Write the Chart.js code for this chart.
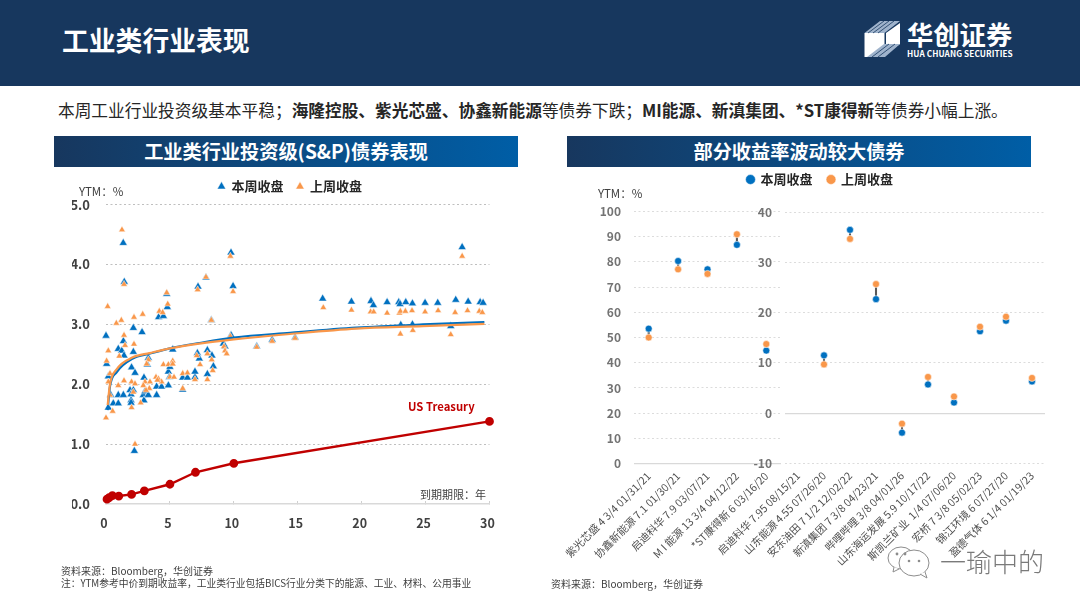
<!DOCTYPE html>
<html lang="zh"><head><meta charset="utf-8">
<script src="https://cdn.jsdelivr.net/npm/chart.js@4/dist/chart.umd.min.js"></script>
<style>
html,body{margin:0;padding:0;background:#fff}
#page{position:relative;width:1080px;height:608px;overflow:hidden;font-family:"Noto Sans CJK SC","Noto Sans",sans-serif;color:#262626}
#page canvas{position:absolute;left:0;top:0}
.t{position:absolute;white-space:nowrap;line-height:1}
#head{position:absolute;left:0;top:0;width:1080px;height:86px;background:#17375e}
.bar{position:absolute;top:136px;height:31px;color:#fff;font-weight:700;font-size:19.2px;line-height:30px;text-align:center;background:linear-gradient(90deg,#17375e,#005ea6)}
</style></head><body><div id="page">
<div id="head"></div>
<div class="t" style="left:62px;top:27px;font-size:26.8px;font-weight:700;color:#fff">工业类行业表现</div>
<svg style="position:absolute;left:860px;top:16px" width="46" height="46" viewBox="860 16 46 46">
<polygon points="864.5,33 884.5,33 884.5,57 864.5,57" fill="#fff"/>
<polygon points="864.5,33 880,21 900,21 884.5,33" fill="#9fb3cc"/>
<polygon points="886,33 900,23 900,44 886,54" fill="#fff"/>
<polygon points="867,57 884,44 900,44 885,57" fill="#9fb3cc"/>
<g stroke="#17375e" stroke-width="0.8"><line x1="868" y1="33" x2="884" y2="21"/><line x1="873" y1="33" x2="889" y2="21"/><line x1="878" y1="33" x2="894" y2="21"/><line x1="872" y1="57" x2="889" y2="44"/><line x1="878" y1="57" x2="895" y2="44"/></g>
</svg>
<div class="t" style="left:907px;top:21px;font-size:26.3px;font-weight:700;color:#fff">华创证券</div>
<div class="t" style="left:907px;top:49px;font-size:8.2px;font-weight:700;color:#fff;letter-spacing:.1px">HUA CHUANG SECURITIES</div>
<div class="t" style="left:58px;top:102px;font-size:16.7px;color:#262626">本周工业行业投资级基本平稳；<b>海隆控股、紫光芯盛、协鑫新能源</b>等债券下跌；<b>MI能源、新滇集团、*ST康得新</b>等债券小幅上涨。</div>
<div class="bar" style="left:54px;width:464px">工业类行业投资级(S&amp;P)债券表现</div>
<div class="bar" style="left:567px;width:464px">部分收益率波动较大债券</div>
<canvas id="scatterChart" width="1080" height="608"></canvas>
<canvas id="leftPanel" width="1080" height="608"></canvas>
<canvas id="rightPanel" width="1080" height="608"></canvas>
<div class="t" style="left:79px;top:186px;font-size:11.5px;color:#404040">YTM：%</div>
<div class="t" style="left:408px;top:401px;font-size:11.3px;font-weight:700;color:#c00000">US Treasury</div>
<div class="t" style="left:420px;top:489px;font-size:11px;color:#404040">到期期限：年</div>
<div class="t" style="left:598px;top:188px;font-size:11.5px;color:#404040">YTM：%</div>
<div class="t" style="left:61px;top:566px;font-size:10px;color:#404040">资料来源：Bloomberg，华创证券</div>
<div class="t" style="left:61px;top:579px;font-size:9.75px;color:#404040">注：YTM参考中价到期收益率，工业类行业包括BICS行业分类下的能源、工业、材料、公用事业</div>
<div class="t" style="left:551px;top:579px;font-size:10px;color:#404040">资料来源：Bloomberg，华创证券</div>
<svg style="position:absolute;left:886px;top:543px" width="50" height="38" viewBox="0 0 50 38">
<ellipse cx="15" cy="15" rx="13" ry="11" fill="#fff" stroke="#8c8c8c" stroke-width="1"/>
<path d="M8 24 L7 29 L13 26" fill="#fff" stroke="#8c8c8c"/>
<ellipse cx="28" cy="20" rx="15" ry="13" fill="#fff" stroke="#8c8c8c" stroke-width="1"/>
<path d="M34 31 L41 35 L39 29" fill="#fff" stroke="#8c8c8c"/>
<circle cx="11" cy="11" r="1.4" fill="#8c8c8c"/><circle cx="19" cy="11" r="1.4" fill="#8c8c8c"/>
<circle cx="23" cy="18" r="1.3" fill="#8c8c8c"/><circle cx="33" cy="18" r="1.3" fill="#8c8c8c"/>
</svg>
<div class="t" style="left:940px;top:548px;font-size:26px;font-weight:300;color:#7a7a7a">一瑜中的</div>
</div>
<script>
const FONT='"Noto Sans CJK SC","Noto Sans",sans-serif';
const BLUE='#0070c0', ORANGE='#f9974a', RED='#c00000';
const seriesNames=['本周收盘','上周收盘'];

// Left chart: maturity (years) and YTM (%)
const thisWeekYears=[0,1.35,1.43,2.14,2.82,4.12,4.49,4.8,4.75,7.2,7.82,8.24,9.78,9.94,9.78,1.36,0.96,1.23,1.41,2.14,0.05,0.18,2.0,2.27,3.23,3.31,5.22,2.97,4.88,5.0,0.18,0.57,0.96,0.37,0.96,1.36,1.88,2.14,1.96,1.96,1.96,2.92,3.05,2.97,3.31,3.96,3.96,4.35,4.88,4.96,6.0,6.37,6.96,6.96,6.0,7.15,7.3,7.93,8.29,8.4,7.93,9.18,9.31,2.22,11.79,13.0,14.79,16.95,19.2,20.73,20.92,21.99,22.9,23.0,23.45,23.97,24.96,25.95,27.36,28.33,29.27,29.5,23.06,23.97,26.97,27.86];
const thisWeekYtm=[2.81,4.36,3.71,2.94,2.87,3.12,3.14,3.29,3.51,3.63,3.78,3.07,4.2,3.64,2.82,2.72,2.59,2.56,2.48,2.54,2.34,2.13,2.28,2.19,2.33,2.44,2.58,2.11,2.21,2.29,1.61,1.68,1.68,1.82,1.82,1.82,1.9,1.9,1.83,1.73,1.69,1.82,1.88,1.73,1.82,1.82,1.96,1.96,1.98,2.12,2.11,2.11,2.12,2.21,1.91,2.52,2.43,2.57,2.48,2.3,2.17,2.68,2.63,0.885,2.63,2.74,2.78,3.43,3.38,3.39,3.32,3.37,3.37,3.34,3.37,3.35,3.36,3.36,3.41,3.38,3.37,3.36,2.99,3.0,2.97,4.29];
const lastWeekYears=[0.13,1.25,1.41,0.81,1.2,2.19,2.87,1.41,4.17,4.43,4.83,4.75,7.17,7.82,8.24,9.73,9.94,9.73,0,0.52,2.19,1.49,0.18,0.05,1.04,0.31,0.18,1.41,0.96,0.31,2.0,2.27,2.0,2.71,3.05,2.92,3.44,3.39,3.13,3.31,3.18,4.49,4.88,5.22,5.22,3.91,4.1,4.35,5.0,5.32,6,6.37,6.96,6,7.1,7.36,7.93,7.93,8.35,8.27,9.23,9.31,9.44,2.14,4.02,2.27,11.79,13.0,14.79,17.0,19.2,20.7,20.94,21.99,22.95,23.03,23.42,23.94,24.96,25.98,27.31,28.28,29.2,29.44,23.03,24,26.97,27.86];
const lastWeekYtm=[3.3,4.58,3.67,3.02,3.07,3.12,3.17,2.82,3.22,3.2,3.34,3.53,3.58,3.79,3.07,4.14,3.55,2.8,1.44,1.55,2.67,2.65,2.56,2.39,2.47,2.18,2.04,2.06,1.98,1.82,2.04,2.01,1.61,1.69,2.04,1.98,2.04,1.93,1.9,2.41,2.34,2.33,2.33,2.39,2.34,2.12,2.09,2.04,2.12,2.12,2.18,2.19,2.08,1.93,2.48,2.33,2.51,2.08,2.23,2.41,2.63,2.56,2.51,1.87,2.07,1.0,2.62,2.72,2.77,3.28,3.24,3.21,3.21,3.19,3.19,3.22,3.22,3.23,3.21,3.23,3.2,3.23,3.22,3.2,2.84,2.9,2.83,4.14];
const trendYears=[0.13,0.31,0.83,2.1,3.4,5,7.3,10,14.4,19.6,24.8,29.6];
const trendThisWeek=[1.57,1.96,2.2,2.43,2.51,2.6,2.69,2.78,2.86,2.945,3.0,3.04];
const trendLastWeek=[1.65,2.0,2.25,2.45,2.52,2.6,2.68,2.75,2.84,2.93,2.97,3.01];
const treasuryYears=[0.08,0.25,0.5,1,2,3,5,7,10,30];
const treasuryYtm=[0.08,0.105,0.14,0.133,0.16,0.22,0.33,0.53,0.68,1.38];
const leftYTicks=[0,1,2,3,4,5];

// Right charts
const highYieldNames=['紫光芯盛 4 3/4 01/31/21','协鑫新能源 7.1 01/30/21','启迪科华 7.9 03/07/21','M I 能源 13 3/4 04/12/22','*ST康得新 6 03/16/20'];
const highYieldThis=[53.5,80.3,77,86.7,44.8];
const highYieldLast=[50,77,75.2,90.9,47.4];
const lowYieldNames=['启迪科华 7.95 08/15/21','山东能源 4.55 07/26/20','安东油田 7 1/2 12/02/22','新滇集团 7 3/8 04/23/21','哔哩哔哩 3/8 04/01/26','山东海运发展 5.9 10/17/22','斯凯兰矿业  1/4 07/06/20','宏桥 7 3/8 05/02/23','锦江环境 6 07/27/20','盈德气体 6 1/4 01/19/23'];
const lowYieldThis=[null,11.5,36.5,22.7,-3.9,5.7,2.1,16.3,18.4,6.3];
const lowYieldLast=[null,9.7,34.7,25.7,-2.1,7.2,3.3,17.2,19.2,7.0];

const zip=(xs,ys)=>xs.map((x,i)=>({x,y:ys[i]}));
const range=(a,b)=>a.map((v,i)=>v==null?null:[Math.min(v,b[i]),Math.max(v,b[i])]);

function legendPlacer(left,right,top){return {id:'legendPlacer',beforeDraw(c){const l=c.legend;const h=l.bottom-l.top;l.left=left;l.right=right;l.top=top;l.bottom=top+h;}};}
const legendOpts=(size,box,pad)=>({display:true,position:'top',align:'center',
  labels:{usePointStyle:true,boxWidth:box,boxHeight:box,padding:pad,color:'#262626',font:{family:FONT,size,weight:'700'},
    filter:(it)=>seriesNames.includes(it.text),sort:(a,b)=>b.datasetIndex-a.datasetIndex}});
function pinTop(chart,top){chart.options.layout.padding.top-=chart.chartArea.top-top;chart.update();}

Chart.defaults.animation=false;
Chart.defaults.responsive=false;
Chart.defaults.font.family=FONT;

const tri=(label,data,color,r)=>({type:'scatter',label,data,clip:false,pointStyle:'triangle',pointRadius:r,pointBackgroundColor:color,backgroundColor:color,pointBorderColor:'rgba(255,255,255,.85)',borderColor:color,pointBorderWidth:.6,showLine:false});
const trend=(label,data,color)=>({type:'line',label,data,borderColor:color,backgroundColor:color,borderWidth:2.2,pointRadius:0,cubicInterpolationMode:'monotone',fill:false});

const scatterChart=new Chart(document.getElementById('scatterChart'),{
  type:'scatter',
  data:{datasets:[
    {type:'line',label:'US Treasury',data:zip(treasuryYears,treasuryYtm),clip:false,borderColor:RED,backgroundColor:RED,pointBackgroundColor:RED,pointBorderColor:RED,pointRadius:3.2,borderWidth:2.4,tension:0,fill:false},
    trend('上周趋势',zip(trendYears,trendLastWeek),ORANGE),
    trend('本周趋势',zip(trendYears,trendThisWeek),BLUE),
    tri('上周收盘',zip(lastWeekYears,lastWeekYtm),ORANGE,3.9),
    tri('本周收盘',zip(thisWeekYears,thisWeekYtm),BLUE,4.7)
  ]},
  options:{
    layout:{autoPadding:false,padding:{left:72,right:590.5,top:204.7,bottom:80}},
    plugins:{legend:legendOpts(13,7,13),tooltip:{enabled:false}},
    scales:{
      x:{type:'linear',min:0,max:30,afterFit:s=>{s.height=24;},
        ticks:{stepSize:5,color:'#404040',font:{size:12.5,weight:'700'},padding:15,labelOffset:-2,maxRotation:0},
        grid:{drawOnChartArea:false,drawTicks:true,tickLength:-3,color:'#d0d0d0'},
        border:{display:true,color:'#d9d9d9',width:1.5}},
      y:{type:'linear',min:0,max:5,afterFit:s=>{s.width=34;},
        afterBuildTicks:s=>{s.ticks=leftYTicks.map(value=>({value}));},
        ticks:{callback:v=>v.toFixed(1),color:'#404040',font:{size:13,weight:'700'},padding:16},
        grid:{drawTicks:false,color:c=>c.tick&&c.tick.value===0?'rgba(0,0,0,0)':'#bfbfbf'},
        border:{display:false,dash:[2,2.5]}}
    }
  },
  plugins:[legendPlacer(90,490,167)]
});
pinTop(scatterChart,204.7);

function panel(id,names,thisW,lastW,min,max,pad,yWidth,zeroValue,placer,withLegend){
  const base=v=>({type:'line',showLine:false,pointRadius:3.5,pointBorderColor:'rgba(255,255,255,.9)',pointBorderWidth:.6,pointStyle:'circle',...v});
  return new Chart(document.getElementById(id),{
    type:'bar',
    data:{labels:names,datasets:[
      base({label:'上周收盘',data:lastW,backgroundColor:ORANGE,pointBackgroundColor:ORANGE,borderColor:ORANGE}),
      base({label:'本周收盘',data:thisW,backgroundColor:BLUE,pointBackgroundColor:BLUE,borderColor:BLUE}),
      {type:'bar',label:'高低差',data:range(thisW,lastW),backgroundColor:'#595959',barThickness:1.4}
    ]},
    options:{
      layout:{autoPadding:false,padding:pad},
      plugins:{legend:withLegend?legendOpts(13,7,15):{display:false},tooltip:{enabled:false}},
      scales:{
        x:{afterFit:s=>{s.height=110;},offset:true,
          ticks:{autoSkip:false,minRotation:45,maxRotation:45,color:'#505050',font:{size:10.6},padding:-2},
          grid:{display:false},border:{display:false}},
        y:{min,max,afterFit:s=>{s.width=yWidth;},
          ticks:{stepSize:10,color:'#737373',font:{size:12,weight:'700'},padding:13},
          grid:{drawTicks:false,color:c=>c.tick&&c.tick.value===zeroValue?'#d9d9d9':'#dcdcdc',lineWidth:c=>c.tick&&c.tick.value===zeroValue?1.2:1},
          border:{display:false,dash:c=>c.tick&&c.tick.value===zeroValue?[]:[2,2.5]}}
      }
    },
    plugins:placer?[placer]:[]
  });
}
panel('leftPanel',highYieldNames,highYieldThis,highYieldLast,0,100,{left:634-34,right:1080-781,top:211.3,bottom:608-463.7-110},34,0,null,false);
const rightPanel=panel('rightPanel',lowYieldNames,lowYieldThis,lowYieldLast,-10,40,{left:785-34,right:1080-1045,top:212.3,bottom:608-463.3-110},34,0,legendPlacer(620,1020,158),true);
pinTop(rightPanel,212.3);
</script></body></html>
